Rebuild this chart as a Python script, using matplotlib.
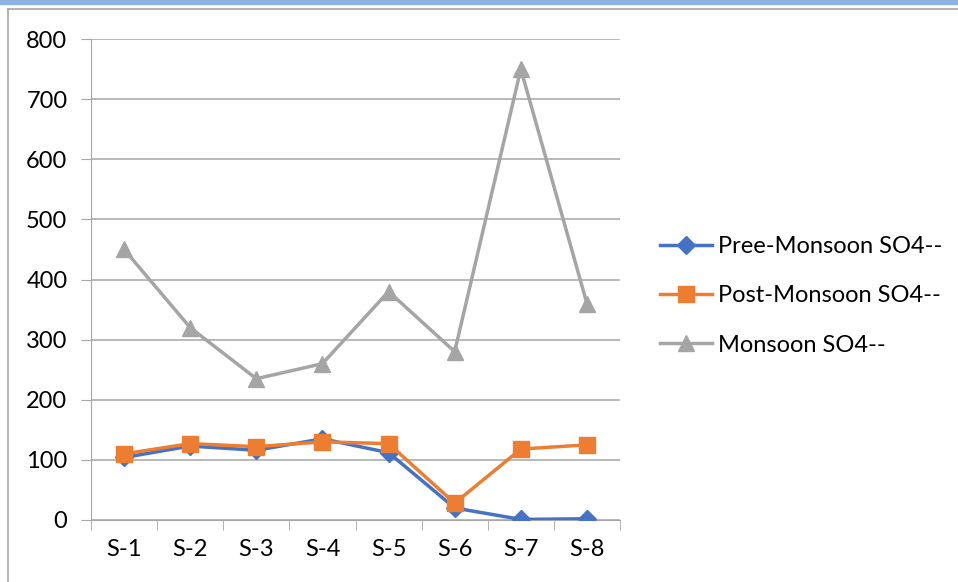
import matplotlib.pyplot as plt
from matplotlib.lines import Line2D
from matplotlib.patches import Rectangle

plt.rcParams['font.family'] = ['Lato', 'DejaVu Sans']

sites = ["S-1", "S-2", "S-3", "S-4", "S-5", "S-6", "S-7", "S-8"]
pre_monsoon = [104, 123, 116, 135, 112, 20, 1, 2]
post_monsoon = [110, 127, 122, 130, 127, 28, 118, 125]
monsoon = [450, 320, 235, 260, 380, 280, 750, 360]
yticks = [0, 100, 200, 300, 400, 500, 600, 700, 800]

fig = plt.figure(figsize=(9.58, 5.82), dpi=100)

# frame around the chart
fig.patches.append(Rectangle((0, 1 - 3.5 / 582), 1, 3.5 / 582, transform=fig.transFigure,
                             color="#8DB4E2", zorder=0))
fig.add_artist(Line2D([8 / 958, 8 / 958], [0, 1 - 9 / 582], transform=fig.transFigure,
                      color="#A6A6A6", lw=1.2))
fig.add_artist(Line2D([8 / 958, 1], [1 - 9 / 582, 1 - 9 / 582], transform=fig.transFigure,
                      color="#A6A6A6", lw=1.2))

ax = fig.add_axes([91 / 958, 1 - 520 / 582, (620 - 91) / 958, (520 - 39) / 582])
x = range(len(sites))
ax.plot(x, pre_monsoon, color="#4472C4", lw=2.5, marker="D", ms=9, zorder=3,
        label="Pree-Monsoon SO4--")
ax.plot(x, post_monsoon, color="#ED7D31", lw=2.5, marker="s", ms=12, zorder=4,
        label="Post-Monsoon SO4--")
ax.plot(x, monsoon, color="#A5A5A5", lw=2.5, marker="^", ms=12, zorder=2,
        label="Monsoon SO4--")

ax.set_xlim(-0.5, len(sites) - 0.5)
ax.set_ylim(0, 800)
ax.set_yticks(yticks)
ax.set_xticks(list(x))
ax.set_xticklabels(sites)
ax.set_xticks([i - 0.5 for i in range(len(sites) + 1)], minor=True)
ax.grid(axis="y", color="#A6A6A6", lw=1.1, zorder=0)
for side in ["top", "right"]:
    ax.spines[side].set_visible(False)
ax.spines["left"].set_color("#A6A6A6")
ax.spines["bottom"].set_color("#A6A6A6")
ax.tick_params(axis="y", length=7, color="#A6A6A6", labelsize=17, pad=10)
ax.tick_params(axis="x", which="major", length=0, labelsize=17, pad=14)
ax.tick_params(axis="x", which="minor", length=7, color="#A6A6A6")

ax.legend(loc="center left", bbox_to_anchor=(1.076, 0.466), frameon=False, fontsize=17,
          borderaxespad=0, borderpad=0, handlelength=2.2, handletextpad=0.25,
          labelspacing=1.2)

fig.savefig("out.png", dpi=100)
